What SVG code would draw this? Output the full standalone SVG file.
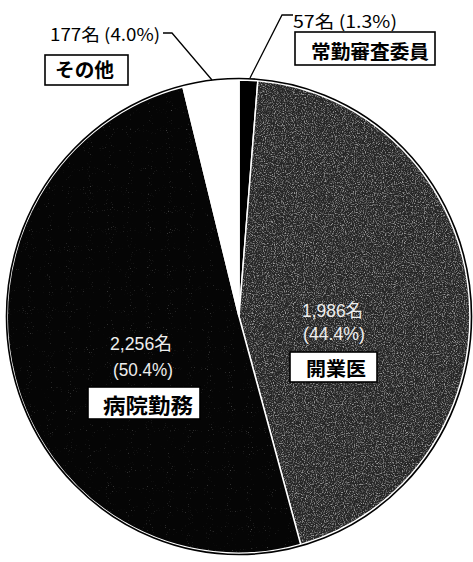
<svg xmlns="http://www.w3.org/2000/svg" width="473" height="562" viewBox="0 0 473 562">
<style>
  .lbl{font-family:"Noto Sans CJK JP","Liberation Sans",sans-serif;fill:#000;}
  .bl{font-weight:bold;}
  .box{fill:#fff;stroke:#000;stroke-width:1.6;}
  .in{font-family:"Liberation Sans","Noto Sans CJK JP",sans-serif;fill:#eeeeee;font-size:18px;}
  .lead{fill:none;stroke:#000;stroke-width:1.3;}
</style>
<defs>
  <filter id="speck" x="0" y="0" width="100%" height="100%">
    <feTurbulence type="fractalNoise" baseFrequency="0.9" numOctaves="2" seed="3" result="n"/>
    <feColorMatrix in="n" type="matrix" values="0 0 0 0 1  0 0 0 0 1  0 0 0 0 1  3 0 0 0 -1.4" result="w"/>
    <feComposite in="w" in2="SourceGraphic" operator="in"/>
  </filter>
  <filter id="speck2" x="0" y="0" width="100%" height="100%">
    <feTurbulence type="fractalNoise" baseFrequency="0.95" numOctaves="1" seed="7" result="n"/>
    <feColorMatrix in="n" type="matrix" values="0 0 0 0 1  0 0 0 0 1  0 0 0 0 1  4 0 0 0 -2.7" result="w"/>
    <feComposite in="w" in2="SourceGraphic" operator="in"/>
  </filter>
</defs>
<rect width="473" height="562" fill="#fff"/>
<g id="pie">
  <g id="slice-jokin">
    <path d="M239,316.5 L239,80 A231,236.5 0 0 1 257.85,80.79 Z" fill="#000" stroke="#fff" stroke-width="1.5"/>
  </g>
  <g id="slice-kaigyoi">
    <path d="M239,316.5 L257.85,80.79 A231,236.5 0 0 1 300.65,544.4 Z" fill="#262626" stroke="#fff" stroke-width="1.5"/>
    <path d="M239,316.5 L257.85,80.79 A231,236.5 0 0 1 300.65,544.4 Z" fill="#000" filter="url(#speck)" opacity="0.55"/>
  </g>
  <g id="slice-byoin">
    <path d="M239,316.5 L300.65,544.4 A231,236.5 0 1 1 182.95,87.07 Z" fill="#050505" stroke="#fff" stroke-width="1.5"/>
    <path d="M239,316.5 L300.65,544.4 A231,236.5 0 1 1 182.95,87.07 Z" fill="#000" filter="url(#speck2)" opacity="0.4"/>
  </g>
  <g id="slice-sonota">
    <path d="M239,316.5 L182.95,87.07 A231,236.5 0 0 1 239,80 Z" fill="#fff" stroke="#fff" stroke-width="1.5"/>
  </g>
  <ellipse cx="239" cy="316.5" rx="232.5" ry="238" fill="none" stroke="#000" stroke-width="1.6"/>
</g>
<g id="connectors">
  <polyline class="lead" points="163,33 172,33 212,80"/>
  <polyline class="lead" points="293,15 282,15 250,78"/>
</g>
<g id="node-sonota">
  <text class="lbl" x="50" y="41" font-size="17" textLength="110" lengthAdjust="spacingAndGlyphs">177名 (4.0%)</text>
  <rect class="box" x="45" y="55" width="83" height="30"/>
  <text class="lbl bl" x="55" y="77" font-size="19" textLength="59" lengthAdjust="spacingAndGlyphs">その他</text>
</g>
<g id="node-jokin">
  <text class="lbl" x="293" y="28" font-size="17" textLength="104" lengthAdjust="spacingAndGlyphs">57名 (1.3%)</text>
  <rect class="box" x="295" y="32" width="140" height="33"/>
  <text class="lbl bl" x="311" y="59" font-size="19" textLength="118" lengthAdjust="spacingAndGlyphs">常勤審査委員</text>
</g>
<g id="node-kaigyoi">
  <text class="in" x="302" y="317" textLength="61" lengthAdjust="spacingAndGlyphs">1,986名</text>
  <text class="in" x="303" y="340" textLength="62" lengthAdjust="spacingAndGlyphs">(44.4%)</text>
  <rect class="box" x="290" y="352" width="87" height="30"/>
  <text class="lbl bl" x="306" y="376" font-size="19" textLength="60" lengthAdjust="spacingAndGlyphs">開業医</text>
</g>
<g id="node-byoin">
  <text class="in" x="110" y="350" textLength="62" lengthAdjust="spacingAndGlyphs">2,256名</text>
  <text class="in" x="113" y="376" textLength="60" lengthAdjust="spacingAndGlyphs">(50.4%)</text>
  <rect class="box" x="88" y="387" width="112" height="32"/>
  <text class="lbl bl" x="103" y="413" font-size="21" textLength="90" lengthAdjust="spacingAndGlyphs">病院勤務</text>
</g>
</svg>
